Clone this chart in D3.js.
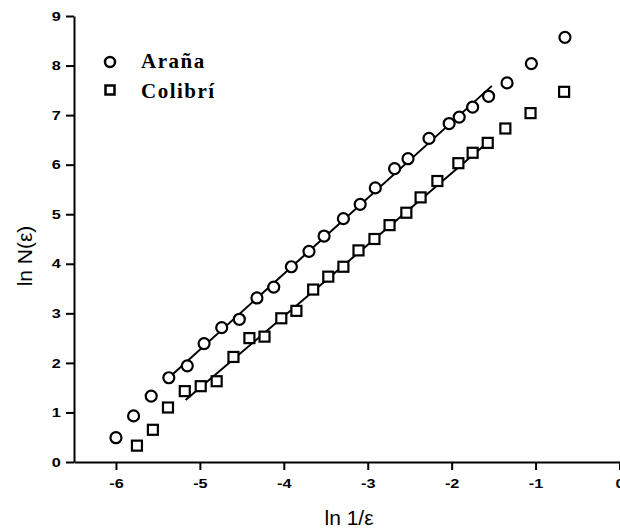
<!DOCTYPE html>
<html>
<head>
<meta charset="utf-8">
<script src="https://cdn.jsdelivr.net/npm/d3@7"></script>
<style>
  body { margin: 0; background: #fff; }
  .tick text { font-family: Arial, "Liberation Sans", sans-serif; font-weight: bold; font-size: 13px; fill: #000; }
</style>
</head>
<body>
<div id="chart"></div>
<script>
// Araña (circles)
const araX = [-6.0, -5.79, -5.58, -5.37, -5.15, -4.95, -4.74, -4.53, -4.32, -4.12, -3.91, -3.70, -3.52, -3.29, -3.09, -2.91, -2.68, -2.52, -2.27, -2.03, -1.91, -1.75, -1.56, -1.34, -1.05, -0.65];
const araY = [0.49, 0.93, 1.33, 1.70, 1.94, 2.39, 2.71, 2.88, 3.31, 3.53, 3.94, 4.25, 4.56, 4.91, 5.20, 5.53, 5.92, 6.12, 6.53, 6.83, 6.96, 7.16, 7.38, 7.65, 8.04, 8.57];
// Colibrí (squares)
const colX = [-5.75, -5.56, -5.38, -5.18, -4.99, -4.80, -4.60, -4.41, -4.23, -4.03, -3.85, -3.65, -3.47, -3.29, -3.11, -2.92, -2.74, -2.54, -2.37, -2.17, -1.92, -1.75, -1.57, -1.36, -1.06, -0.66];
const colY = [0.33, 0.65, 1.10, 1.43, 1.53, 1.63, 2.12, 2.50, 2.53, 2.90, 3.05, 3.48, 3.74, 3.94, 4.27, 4.50, 4.78, 5.03, 5.34, 5.67, 6.03, 6.24, 6.44, 6.73, 7.04, 7.47];
// fitted lines (end points)
const araFitX = [-5.37, -1.52];
const araFitY = [1.70, 7.59];
const colFitX = [-5.17, -1.575];
const colFitY = [1.25, 6.44];

const xTicks = [-6, -5, -4, -3, -2, -1, 0];
const yTicks = [0, 1, 2, 3, 4, 5, 6, 7, 8, 9];
const seriesNames = ["Araña", "Colibrí"];

const width = 620;
const height = 532;

const svg = d3.select("#chart")
    .append("svg")
    .attr("width", width)
    .attr("height", height);

const xScale = d3.scaleLinear()
    .domain([-6.5, 0])
    .range([74, 619.5]);
const yScale = d3.scaleLinear()
    .domain([0, 9])
    .range([462, 16]);

//X Axis
const xAxis = d3.axisBottom(xScale)
    .tickValues(xTicks)
    .tickSize(8)
    .tickSizeOuter(0)
    .tickPadding(9)
    .tickFormat(d => String(d));
svg.append("g")
    .attr("transform", `translate(0, ${yScale(0)})`)
    .call(xAxis)
    .call(g => g.select(".domain").attr("stroke-width", 2))
    .call(g => g.selectAll(".tick line").attr("stroke-width", 2))
    .call(g => g.selectAll(".tick text").attr("transform", "scale(1.25,1)"));

//Y Axis
const yAxis = d3.axisLeft(yScale)
    .tickValues(yTicks)
    .tickSize(8)
    .tickSizeOuter(0)
    .tickPadding(2.5)
    .tickFormat(d => String(d));
svg.append("g")
    .attr("transform", `translate(${xScale(-6.5)}, 0)`)
    .call(yAxis)
    .call(g => g.select(".domain").attr("stroke-width", 2))
    .call(g => g.selectAll(".tick line").attr("stroke-width", 2))
    .call(g => g.selectAll(".tick text").attr("transform", "scale(1.25,1)"));

//Axis labels
svg.append("text")
    .attr("x", 349)
    .attr("y", 525)
    .attr("text-anchor", "middle")
    .attr("font-family", "Arial, 'Liberation Sans', sans-serif")
    .attr("font-size", "21px")
    .text("ln 1/ε");
svg.append("text")
    .attr("transform", "translate(32, 256) rotate(-90)")
    .attr("text-anchor", "middle")
    .attr("font-family", "Arial, 'Liberation Sans', sans-serif")
    .attr("font-size", "21px")
    .text("ln N(ε)");

//Fit lines
const line = d3.line().x(d => xScale(d[0])).y(d => yScale(d[1]));
svg.append("path")
    .datum(d3.zip(araFitX, araFitY))
    .attr("d", line)
    .attr("fill", "none")
    .attr("stroke", "black")
    .attr("stroke-width", 2);
svg.append("path")
    .datum(d3.zip(colFitX, colFitY))
    .attr("d", line)
    .attr("fill", "none")
    .attr("stroke", "black")
    .attr("stroke-width", 2);

//Points
svg.selectAll("circle.ara")
    .data(d3.zip(araX, araY))
    .enter()
    .append("circle")
    .attr("class", "ara")
    .attr("cx", d => xScale(d[0]))
    .attr("cy", d => yScale(d[1]))
    .attr("r", 5.5)
    .attr("fill", "white")
    .attr("stroke", "black")
    .attr("stroke-width", 2.2);

const sq = 10;
svg.selectAll("rect.col")
    .data(d3.zip(colX, colY))
    .enter()
    .append("rect")
    .attr("class", "col")
    .attr("x", d => xScale(d[0]) - sq / 2)
    .attr("y", d => yScale(d[1]) - sq / 2)
    .attr("width", sq)
    .attr("height", sq)
    .attr("fill", "white")
    .attr("stroke", "black")
    .attr("stroke-width", 2.2);

//Legend
const legend = svg.append("g");
legend.append("circle")
    .attr("cx", 110)
    .attr("cy", 62)
    .attr("r", 5)
    .attr("fill", "white")
    .attr("stroke", "black")
    .attr("stroke-width", 2.5);
legend.append("rect")
    .attr("x", 105.5)
    .attr("y", 85.5)
    .attr("width", 9)
    .attr("height", 9)
    .attr("fill", "white")
    .attr("stroke", "black")
    .attr("stroke-width", 2.5);
legend.selectAll("text")
    .data(seriesNames)
    .enter()
    .append("text")
    .attr("x", 141)
    .attr("y", (d, i) => 68 + i * 30)
    .attr("font-family", "'Times New Roman', 'Liberation Serif', serif")
    .attr("font-weight", "bold")
    .attr("font-size", "21px")
    .attr("letter-spacing", "1.5px")
    .text(d => d);
</script>
</body>
</html>
